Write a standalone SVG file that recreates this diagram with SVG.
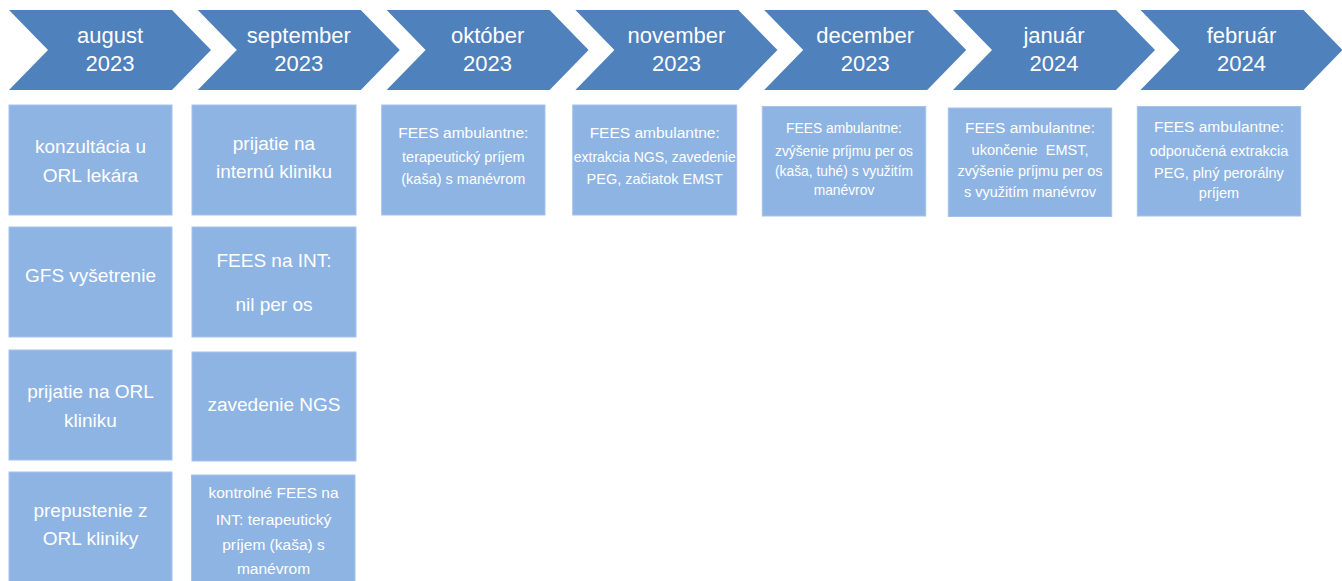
<svg xmlns="http://www.w3.org/2000/svg" width="1342" height="581" viewBox="0 0 1342 581">
<defs>
<style>
.chev{fill:#4F81BD}
.box{fill:#8EB4E3;stroke:#A4C2EA;stroke-width:1}
text{font-family:"Liberation Sans",Arial,sans-serif;fill:#FFFFFF;text-anchor:middle}
.h{font-size:22px}
.l{font-size:19px}
.m{font-size:15.5px}
.s{font-size:14.5px}
.xs{font-size:13.8px}
</style>
<polygon id="chevShape" points="0,10 163,10 202,50 163,90 0,90 39,50"/>
</defs>
<rect width="1342" height="581" fill="#FFFFFF"/>

<g id="connectors"></g>

<g id="m-aug"><use href="#chevShape" class="chev" x="9"/><text class="h" x="110" y="43">august</text><text class="h" x="110" y="71">2023</text></g>
<g id="m-sep"><use href="#chevShape" class="chev" x="197.8"/><text class="h" x="298.8" y="43">september</text><text class="h" x="298.8" y="71">2023</text></g>
<g id="m-okt"><use href="#chevShape" class="chev" x="386.6"/><text class="h" x="487.6" y="43">október</text><text class="h" x="487.6" y="71">2023</text></g>
<g id="m-nov"><use href="#chevShape" class="chev" x="575.4"/><text class="h" x="676.4" y="43">november</text><text class="h" x="676.4" y="71">2023</text></g>
<g id="m-dec"><use href="#chevShape" class="chev" x="764.2"/><text class="h" x="865.2" y="43">december</text><text class="h" x="865.2" y="71">2023</text></g>
<g id="m-jan"><use href="#chevShape" class="chev" x="953"/><text class="h" x="1054" y="43">január</text><text class="h" x="1054" y="71">2024</text></g>
<g id="m-feb"><use href="#chevShape" class="chev" x="1140.5"/><text class="h" x="1241.5" y="43">február</text><text class="h" x="1241.5" y="71">2024</text></g>

<g id="aug-1"><rect class="box" x="9" y="105" width="163" height="110"/><text class="l" x="90.5" y="153">konzultácia u</text><text class="l" x="90.5" y="182">ORL lekára</text></g>
<g id="aug-2"><rect class="box" x="9" y="227" width="163" height="110"/><text class="l" x="90.5" y="282">GFS vyšetrenie</text></g>
<g id="aug-3"><rect class="box" x="9" y="350" width="163" height="110"/><text class="l" x="90.5" y="398">prijatie na ORL</text><text class="l" x="90.5" y="427">kliniku</text></g>
<g id="aug-4"><rect class="box" x="9" y="472" width="163" height="120"/><text class="l" x="90.5" y="517">prepustenie z</text><text class="l" x="90.5" y="545">ORL kliniky</text></g>

<g id="sep-1"><rect class="box" x="192" y="105" width="164" height="110"/><text class="l" x="274" y="150">prijatie na</text><text class="l" x="274" y="178">internú kliniku</text></g>
<g id="sep-2"><rect class="box" x="192" y="227" width="164" height="110"/><text class="l" x="274" y="267">FEES na INT:</text><text class="l" x="274" y="311">nil per os</text></g>
<g id="sep-3"><rect class="box" x="192" y="352" width="164" height="109"/><text class="l" x="274" y="411">zavedenie NGS</text></g>
<g id="sep-4"><rect class="box" x="191.5" y="475" width="163.5" height="117"/><text class="m" x="273.5" y="498">kontrolné FEES na</text><text class="m" x="273.5" y="525">INT: terapeutický</text><text class="m" x="273.5" y="550">príjem (kaša) s</text><text class="m" x="273.5" y="574">manévrom</text></g>

<g id="okt-1"><rect class="box" x="381.7" y="105" width="163.3" height="110"/><text class="m" x="463.3" y="138">FEES ambulantne:</text><text class="s" x="463.3" y="162">terapeutický príjem</text><text class="s" x="463.3" y="184">(kaša) s manévrom</text></g>
<g id="nov-1"><rect class="box" x="572.7" y="105" width="164" height="110"/><text class="m" x="654.7" y="138">FEES ambulantne:</text><text class="s" x="654.7" y="162" textLength="162" lengthAdjust="spacingAndGlyphs">extrakcia NGS, zavedenie</text><text class="s" x="654.7" y="184">PEG, začiatok EMST</text></g>
<g id="dec-1"><rect class="box" x="762.3" y="106.5" width="163.4" height="109.5"/><text class="xs" x="844" y="133">FEES ambulantne:</text><text class="xs" x="844" y="156">zvýšenie príjmu per os</text><text class="xs" x="844" y="176">(kaša, tuhé) s využitím</text><text class="xs" x="844" y="195">manévrov</text></g>
<g id="jan-1"><rect class="box" x="948.3" y="108" width="163.4" height="108.5"/><text class="m" x="1030" y="133">FEES ambulantne:</text><text class="s" x="1030" y="155">ukončenie&#160; EMST,</text><text class="s" x="1030" y="176">zvýšenie príjmu per os</text><text class="s" x="1030" y="197">s využitím manévrov</text></g>
<g id="feb-1"><rect class="box" x="1137.3" y="106.5" width="163.4" height="109.5"/><text class="m" x="1219" y="132">FEES ambulantne:</text><text class="s" x="1219" y="156">odporučená extrakcia</text><text class="s" x="1219" y="178">PEG, plný perorálny</text><text class="s" x="1219" y="198">príjem</text></g>
</svg>
